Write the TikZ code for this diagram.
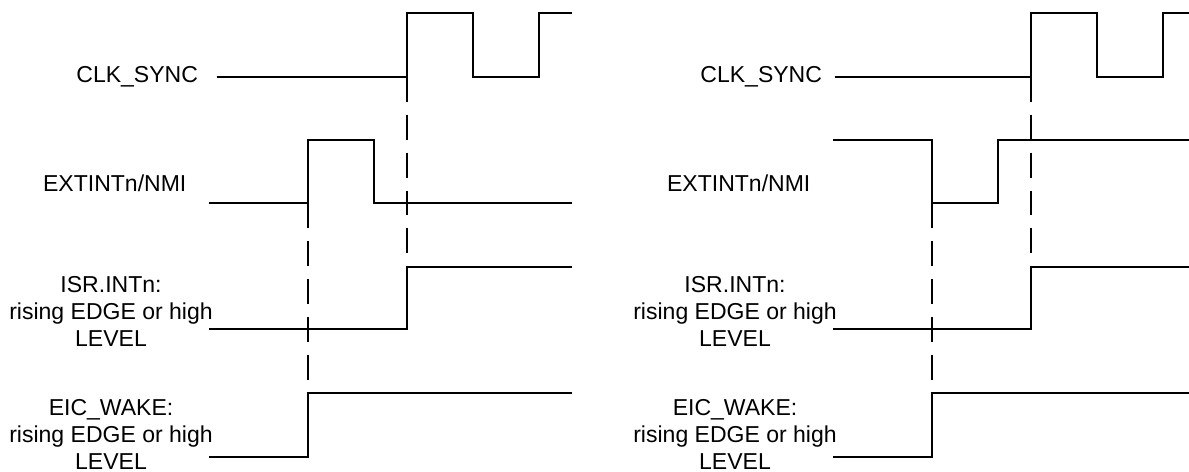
\documentclass[tikz,border=0pt]{standalone}
\usepackage{fontspec}
\setmainfont{Liberation Sans}
\begin{document}
\begin{tikzpicture}[
    x=0.02cm, y=-0.02cm,
    wave/.style={line width=1.15pt},
    sync/.style={line width=1.15pt, dash pattern=on 14.2pt off 7.4pt},
    lbl/.style={inner sep=0pt, font=\fontsize{13.1}{15.4}\selectfont},
    lblm/.style={lbl, align=center}
    ]
    \clip (0,0) rectangle (1189,472);
    % left: high pulse on EXTINTn/NMI
    \node[lbl, anchor=base east] (clkL) at (198.3,82.3) {CLK\_SYNC};
    \node[lbl, anchor=base east] (extL) at (186.7,191.7) {EXTINTn/NMI};
    \node[lblm] (isrL) at (111,311.3) {ISR.INTn:\\rising EDGE or high\\LEVEL};
    \node[lblm] (eicL) at (111,434.7) {EIC\_WAKE:\\rising EDGE or high\\LEVEL};
    \coordinate (clkEdgeL) at (406.7,76.7);
    \coordinate (extEdgeL) at (308.3,203.3);
    \coordinate (isrEdgeL) at (406.7,266.7);
    \coordinate (eicEdgeL) at (308.3,393.3);
    \draw[wave] (216.7,76.7) -- (clkEdgeL) -- (406.7,13.3) -- (473.3,13.3) -- (473.3,76.7) -- (539,76.7) -- (539,13.3) -- (572.3,13.3);
    \draw[wave] (209.3,203.3) -- (extEdgeL) -- (308.3,140) -- (374,140) -- (374,203.3) -- (572.3,203.3);
    \draw[wave] (209.3,329.3) -- (406.7,329.3) -- (isrEdgeL) -- (572.3,266.7);
    \draw[wave] (209.3,456.7) -- (308.3,456.7) -- (eicEdgeL) -- (572.3,393.3);
    \draw[sync] (extEdgeL) -- (eicEdgeL);
    \draw[sync] (clkEdgeL) -- (isrEdgeL);
    % right: low pulse on EXTINTn/NMI
    \begin{scope}[shift={(624,0)}]
    \node[lbl, anchor=base east] (clkR) at (198.3,82.3) {CLK\_SYNC};
    \node[lbl, anchor=base east] (extR) at (186.7,191.7) {EXTINTn/NMI};
    \node[lblm] (isrR) at (111,311.3) {ISR.INTn:\\rising EDGE or high\\LEVEL};
    \node[lblm] (eicR) at (111,434.7) {EIC\_WAKE:\\rising EDGE or high\\LEVEL};
    \coordinate (clkEdgeR) at (406.7,76.7);
    \coordinate (extEdgeR) at (308.3,203.3);
    \coordinate (isrEdgeR) at (406.7,266.7);
    \coordinate (eicEdgeR) at (308.3,393.3);
    \draw[wave] (210.6,76.7) -- (clkEdgeR) -- (406.7,13.3) -- (473.3,13.3) -- (473.3,76.7) -- (539,76.7) -- (539,13.3) -- (572.3,13.3);
    \draw[wave] (209.3,140) -- (308.3,140) -- (extEdgeR) -- (374,203.3) -- (374,140) -- (572.3,140);
    \draw[wave] (209.3,329.3) -- (406.7,329.3) -- (isrEdgeR) -- (572.3,266.7);
    \draw[wave] (209.3,456.7) -- (308.3,456.7) -- (eicEdgeR) -- (572.3,393.3);
    \draw[sync] (extEdgeR) -- (eicEdgeR);
    \draw[sync] (clkEdgeR) -- (isrEdgeR);
    \end{scope}
\end{tikzpicture}
\end{document}
